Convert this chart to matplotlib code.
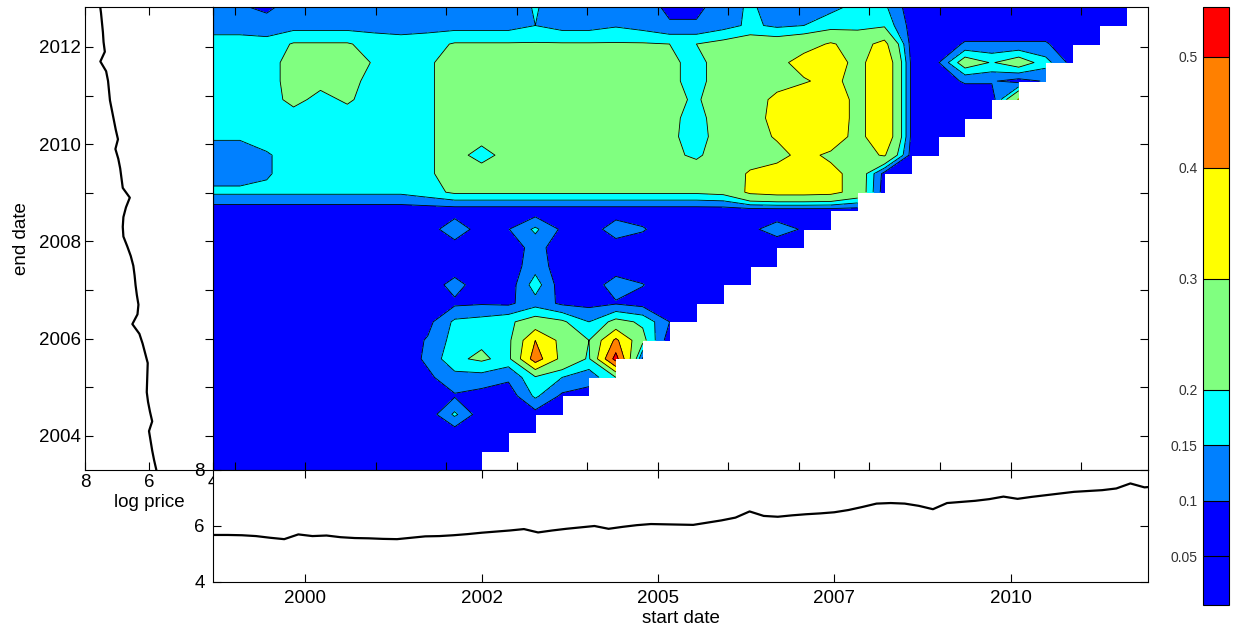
#%% imports
import numpy as np
import matplotlib
matplotlib.use('Agg')
from matplotlib import pyplot as plt

plt.rcParams['font.family'] = ['Liberation Sans', 'DejaVu Sans']
plt.rcParams['font.size'] = 13.5

# %% grid of windows: start date (columns) x end date (rows)
start_dates = np.linspace(1998.69, 2011.64, 35)
end_dates = np.linspace(2003.30, 2012.82, 26)

# value per window in percent, one row per end date (earliest first);
# a row stops at the last start date that still gives a full window
ratio_rows = [
    "7 7 7 7 7 7 7 7 7 7 7",
    "7 7 7 7 7 7 7 7 7 7 7 7",
    "7 7 7 7 7 7 7 7 7 7 7 7 7",
    "7 7 7 7 7 7 7 7 7 16 7 7 8 7",
    "7 7 7 7 7 7 7 7 7 9.5 8 7 16 9 8",
    "7 7 7 7 7 7 7 7 9 13 13 11 19 15 12 20",
    "7 7 7 7 7 7 7 7 11 19 21 18 45 27 19 54 9",
    "7 7 7 7 7 7 7 7 10.5 17 19 18 40 27 20 42 22 7",
    "7 7 7 7 7 7 7 7 8.5 16 17 19 23 21 15 22 19 10 7",
    "7 7 7 7 7 7 7 7 7 9 9.5 9 13 9 8.5 9.5 8 7 7 7",
    "7 7 7 7 7 7 7 7 7 12 7 7 17.5 7 7 12.5 10.2 7 7 7 7",
    "7 7 7 7 7 7 7 7 7 7 7 7 13 7 7 7 7 7 7 7 7 7",
    "7 7 7 7 7 7 7 7 7 7 7 7 12 7 7 7 7 7 7 7 7 7 7",
    "7 7 7 7 7 7 7 7 7 14 7 9.8 16 9 7 13 10.5 7 7 7 9 12 9.5 7",
    "7 7 7 7 7 7 7 7 7 7 7 7 7 7 7 7 7 7 7 7 7 7 7 7 7",
    "16 16 16 16 16 16 16 16 18 21 21 21 21 21 21 21 21 21 21 22 32 34 34 33 26 7",
    "13 13 14.5 17 17 17 17 17 19 23 24 25 25 25 25 25 25 25 25 25 31 34 35 33 26 8 7",
    "13 13 14.5 17 17 17 17 17 19 23 17 23 25 25 25 25 25 22 18.5 25 26 27 33 28 26 31 8 7",
    "15.5 15.5 17 17 17 17 17 17 19 23 23 25 25 25 25 25 25 22 16 25 26 31 36 37 26 39.5 9 7 7",
    "17 17 17 17 17 17 17 17 19 23 24 25 25 25 25 25 25 22 17 25 26 33 38 39 26 39.5 9 7 7 7",
    "17 17 17 22 18 21 17 17 19 23 25 25 25 25 25 25 25 22 19 25 26 32 37 39 26 39.5 9 7 7 7 31",
    "17 17 17 23 22 22 18 17 19 23 25 25 25 25 25 25 25 22 17 25 26 27 29 33 26 39.5 9 8 10.5 10.5 8 10.5",
    "17 17 17 23 23 23 19.5 17 19 23 25 25 25 25 25 25 25 22 17 25 26 27 34 37 26 39.5 9 9.5 24 19.5 24 17 8",
    "17 17 17 20.5 20.5 20.5 18 17 18 20.5 20.5 20.5 20.5 20.5 20.5 20.5 20.5 20 20 22 24 24 26 31 26 33 8 7 10.5 10.5 10.5 10.5 7 7",
    "13 13 12 13 13 13 13 13 13 13 13 13 15 13 13 14.5 13 10.5 10.5 13 16 14 15 17 18 19 8 7 7 7 7 7 7 7 7",
    "12 10.5 9 12 12 12 12 12 12 12 12 12 15.5 12 12 12 12 9 9 12 16 12 13 14 16 16 7 7 7 7 7 7 7 7 7",
]

levels = [0.006, 0.05, 0.1, 0.15, 0.2, 0.3, 0.4, 0.5, 0.545]
level_colors = ['#0000ff', '#0000ff', '#0080ff', '#00ffff',
                '#80ff80', '#ffff00', '#ff8000', '#ff0000']
cbar_ticks = [0.05, 0.1, 0.15, 0.2, 0.3, 0.4, 0.5]
cbar_labels = ['0.05', '0.1', '0.15', '0.2', '0.3', '0.4', '0.5']

# log price, sampled every 0.2 years (plus the two ends)
price_dates = np.concatenate([[1998.6], 1998.7 + 0.2 * np.arange(71), [2012.85]])
log_price = [
    5.68,
    5.68, 5.68, 5.67, 5.64, 5.58, 5.53, 5.70, 5.64, 5.66, 5.60,
    5.57, 5.56, 5.54, 5.53, 5.58, 5.63, 5.64, 5.67, 5.71, 5.76,
    5.80, 5.84, 5.89, 5.77, 5.84, 5.90, 5.95, 6.00, 5.90, 5.97,
    6.03, 6.07, 6.06, 6.05, 6.04, 6.12, 6.20, 6.30, 6.52, 6.36,
    6.33, 6.38, 6.42, 6.45, 6.49, 6.57, 6.68, 6.80, 6.82, 6.80,
    6.72, 6.60, 6.82, 6.86, 6.90, 6.96, 7.05, 6.97, 7.04, 7.10,
    7.16, 7.22, 7.25, 7.28, 7.34, 7.52, 7.38, 7.42, 7.44, 7.47,
    7.50,
    7.53,
]

start_ticks = [2000, 2002.5, 2005, 2007.5, 2010]
xlim = (1998.69, 2011.95)
ylim = (2003.30, 2012.82)

# %% build the masked grid
Z = np.full((len(end_dates), len(start_dates)), np.nan)
for j, row in enumerate(ratio_rows):
    vals = [float(v) / 100 for v in row.split()]
    Z[j, :len(vals)] = vals
Z = np.ma.masked_invalid(Z)

# %% figure
W, H = 1235, 633
fig = plt.figure(figsize=(W / 100, H / 100), dpi=100)


def box(x0, y0, x1, y1):
    return [x0 / W, 1 - y1 / H, (x1 - x0) / W, (y1 - y0) / H]


ax = fig.add_axes(box(213, 7, 1148, 470))
axl = fig.add_axes(box(85, 7, 213, 470))
axb = fig.add_axes(box(213, 470, 1148, 582), zorder=3)
cax = fig.add_axes(box(1203, 7, 1229, 605))

# contour map
cf = ax.contourf(start_dates, end_dates, Z, levels=levels, colors=level_colors,
                 corner_mask=False)
ax.contour(start_dates, end_dates, Z, levels=levels[1:-1], colors='k',
           linewidths=0.6, corner_mask=False)
ax.set_xlim(xlim)
ax.set_ylim(ylim)
ax.set_xticks(np.arange(1999, 2012))
ax.set_yticks(np.arange(2004, 2013))
ax.set_axisbelow(False)
ax.tick_params(direction='in', length=6, width=0.8, top=True, bottom=True,
               left=False, right=True, labelbottom=False, labelleft=False)

# log price against end date, on its side
axl.plot(log_price, price_dates, color='k', lw=1.6)
axl.set_xlim(8, 4)
axl.set_ylim(ylim)
axl.set_xticks([8, 6, 4])
axl.set_yticks(np.arange(2004, 2013))
axl.set_yticklabels([str(y) if y % 2 == 0 else '' for y in range(2004, 2013)])
axl.tick_params(direction='in', length=6, width=0.8, top=True, right=True, pad=3)
axl.set_xlabel('log price', labelpad=2)
axl.set_ylabel('end date', labelpad=6)

# log price against start date
axb.plot(price_dates, log_price, color='k', lw=1.6)
axb.set_xlim(xlim)
axb.set_ylim(4, 8)
axb.set_yticks([4, 6, 8])
axb.set_xticks(start_ticks)
axb.set_xticklabels([str(int(t)) for t in start_ticks])
axb.tick_params(direction='in', length=6, width=0.8, top=True, right=True, pad=6)
axb.set_xlabel('start date', labelpad=2)

for a in (ax, axl, axb):
    for s in a.spines.values():
        s.set_linewidth(0.8)

# colour scale
cbar = fig.colorbar(cf, cax=cax, spacing='proportional', drawedges=True,
                    ticks=cbar_ticks)
cbar.set_ticklabels(cbar_labels)
cax.yaxis.set_ticks_position('left')
cax.tick_params(length=0, labelsize=10, pad=4, labelcolor='#333333')
cbar.outline.set_linewidth(0.8)
cbar.dividers.set_linewidth(0.8)

fig.savefig('out.png', dpi=100)
